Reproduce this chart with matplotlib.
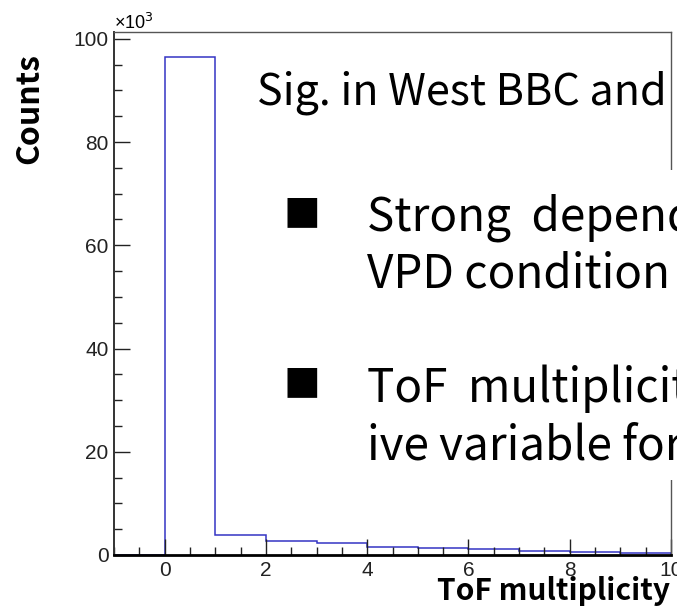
import numpy as np
import matplotlib
matplotlib.use("Agg")
import matplotlib.pyplot as plt
from matplotlib.ticker import MultipleLocator
from matplotlib.patches import Rectangle

# ToF multiplicity histogram (counts in units of 10^3)
edges = [-1, 0, 1, 2, 3, 4, 5, 6, 7, 8, 9, 10]
counts = [0.0, 96.5, 3.86, 2.77, 2.38, 1.61, 1.35, 1.10, 0.83, 0.58, 0.45]

x_ticks = [0, 2, 4, 6, 8, 10]
y_ticks = [0, 20, 40, 60, 80, 100]

title_line = "Sig. in West BBC and"
bullet_1 = ["Strong  dependence", "VPD condition"]
bullet_2 = ["ToF  multiplicity", "ive variable for"]

W, H = 677, 606
fig = plt.figure(figsize=(W / 100, H / 100), dpi=100)


def px(x, y):
    return x / W, 1 - y / H


ax = fig.add_axes([114 / W, 1 - 555 / H, 557 / W, 523 / H])
ax.stairs(counts, edges, color="#3434c4", linewidth=1.1, baseline=0)
ax.set_xlim(-1, 10)
ax.set_ylim(0, max(counts) * 1.05)

ax.xaxis.set_major_locator(MultipleLocator(2))
ax.xaxis.set_minor_locator(MultipleLocator(0.5))
ax.yaxis.set_major_locator(MultipleLocator(20))
ax.yaxis.set_minor_locator(MultipleLocator(5))
ax.set_xticks(x_ticks)
ax.set_yticks(y_ticks)
ax.tick_params(which="both", direction="in", top=False, right=False, width=1, color="#222222")
ax.tick_params(which="major", length=11.5)
ax.tick_params(which="minor", length=5.8)
ax.tick_params(axis="x", pad=4.5)
ax.tick_params(axis="y", pad=4.0)
for lab in ax.get_xticklabels() + ax.get_yticklabels():
    lab.set_fontfamily("Liberation Sans")
    lab.set_fontsize(15)
    lab.set_color("#222222")

ax.spines["bottom"].set_linewidth(2.0)
ax.spines["bottom"].set_color("black")
ax.spines["left"].set_linewidth(1.4)
ax.spines["left"].set_color("#333333")
ax.spines["top"].set_linewidth(1.0)
ax.spines["top"].set_color("#555555")
ax.spines["right"].set_linewidth(1.0)
ax.spines["right"].set_color("#555555")

fig.text(*px(114, 29), r"×10$^{3}$", fontsize=13, family="Liberation Sans",
         va="baseline", ha="left")

# axis titles
bold_font = ["Noto Sans CJK KR", "DejaVu Sans"]
fig.text(*px(29, 109), "Counts", rotation=90, fontsize=23, fontweight="bold",
         family=bold_font, ha="center", va="center")
fig.text(*px(670, 600), "ToF multiplicity", fontsize=21.5, fontweight="bold",
         family=bold_font, ha="right", va="baseline")

# white slide text box hiding part of the frame
fig.patches.append(Rectangle(px(240, 480), (W - 240) / W, 310 / H,
                             transform=fig.transFigure, facecolor="white",
                             edgecolor="none", zorder=5))

slide_font = ["Noto Sans CJK KR", "DejaVu Sans"]
fig.text(*px(257, 105), title_line, fontsize=31, family=slide_font,
         va="baseline", ha="left", zorder=6)

fig.text(*px(302, 211), "■", fontsize=28, family="DejaVu Sans",
         ha="center", va="center", zorder=6)
fig.text(*px(367, 230), bullet_1[0], fontsize=33, family=slide_font,
         va="baseline", ha="left", zorder=6)
fig.text(*px(367, 287), bullet_1[1], fontsize=33, family=slide_font,
         va="baseline", ha="left", zorder=6)

fig.text(*px(302, 381), "■", fontsize=28, family="DejaVu Sans",
         ha="center", va="center", zorder=6)
fig.text(*px(367, 402), bullet_2[0], fontsize=33, family=slide_font,
         va="baseline", ha="left", zorder=6)
fig.text(*px(367, 460), bullet_2[1], fontsize=33, family=slide_font,
         va="baseline", ha="left", zorder=6)

fig.savefig("out.png", dpi=100)
